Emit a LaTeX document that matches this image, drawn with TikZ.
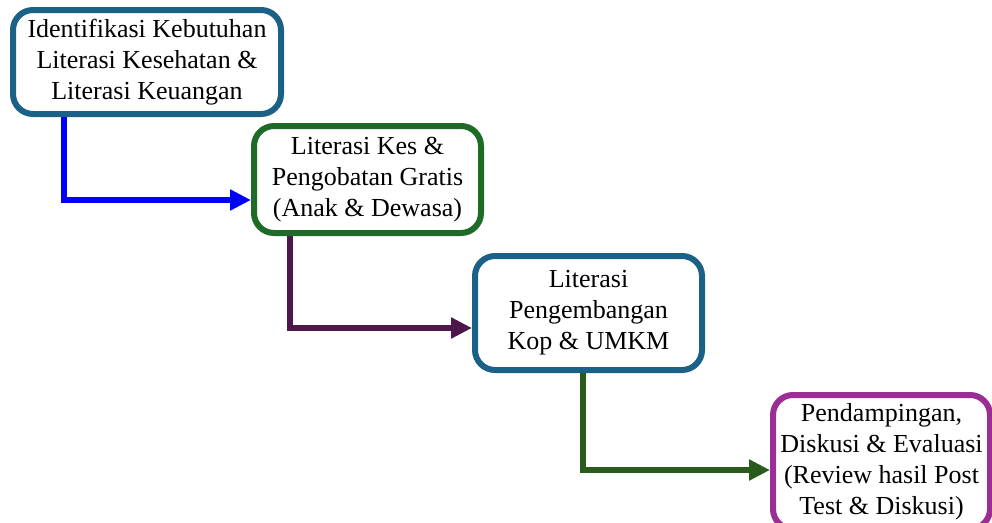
\documentclass[tikz,border=0pt]{standalone}
\usepackage{fontspec}
\setmainfont{Liberation Serif}
\usetikzlibrary{arrows.meta}
\pgfdeclarelayer{bg}
\pgfsetlayers{bg,main}
\definecolor{tealb}{HTML}{1B6087}
\definecolor{greenb}{HTML}{1D6B27}
\definecolor{purpb}{HTML}{9B2D94}
\definecolor{arrowblue}{HTML}{0000FF}
\definecolor{arrowpurp}{HTML}{4E1749}
\definecolor{arrowgreen}{HTML}{2B5A1D}
\tikzset{
  box/.style={draw, line width=6pt, rounded corners=20pt, fill=white, align=center,
    inner sep=0pt, font=\fontsize{26}{31}\selectfont},
  flow/.style={line width=6pt, -{Triangle[length=21pt,width=20pt]}}
}
\begin{document}
\begin{tikzpicture}[x=1pt,y=-1pt]
\useasboundingbox (0,0) rectangle (992,522);
\node[box, draw=tealb, minimum width=268pt, minimum height=104pt] (b1) at (147,62)
  {Identifikasi Kebutuhan\\Literasi Kesehatan \&\\Literasi Keuangan};
\node[box, draw=greenb, minimum width=227pt, minimum height=107pt] (b2) at (367.5,179.5)
  {Literasi Kes \&\\Pengobatan Gratis\\(Anak \& Dewasa)};
\node[box, draw=tealb, minimum width=227pt, minimum height=114pt] (b3) at (588.5,313)
  {Literasi\\Pengembangan\\Kop \& UMKM};
\node[box, draw=purpb, minimum width=217pt, minimum height=134pt] (b4) at (881.5,462)
  {Pendampingan,\\Diskusi \& Evaluasi\\(Review hasil Post\\Test \& Diskusi)};
\begin{pgfonlayer}{bg}
\draw[flow, arrowblue] ([xshift=54pt]b1.south west) |- ([yshift=-20.5pt]b2.west);
\draw[flow, arrowpurp] ([xshift=39pt]b2.south west) |- ([yshift=-15pt]b3.west);
\draw[flow, arrowgreen] ([xshift=111pt]b3.south west) |- ([yshift=-8pt]b4.west);
\end{pgfonlayer}
\end{tikzpicture}
\end{document}
